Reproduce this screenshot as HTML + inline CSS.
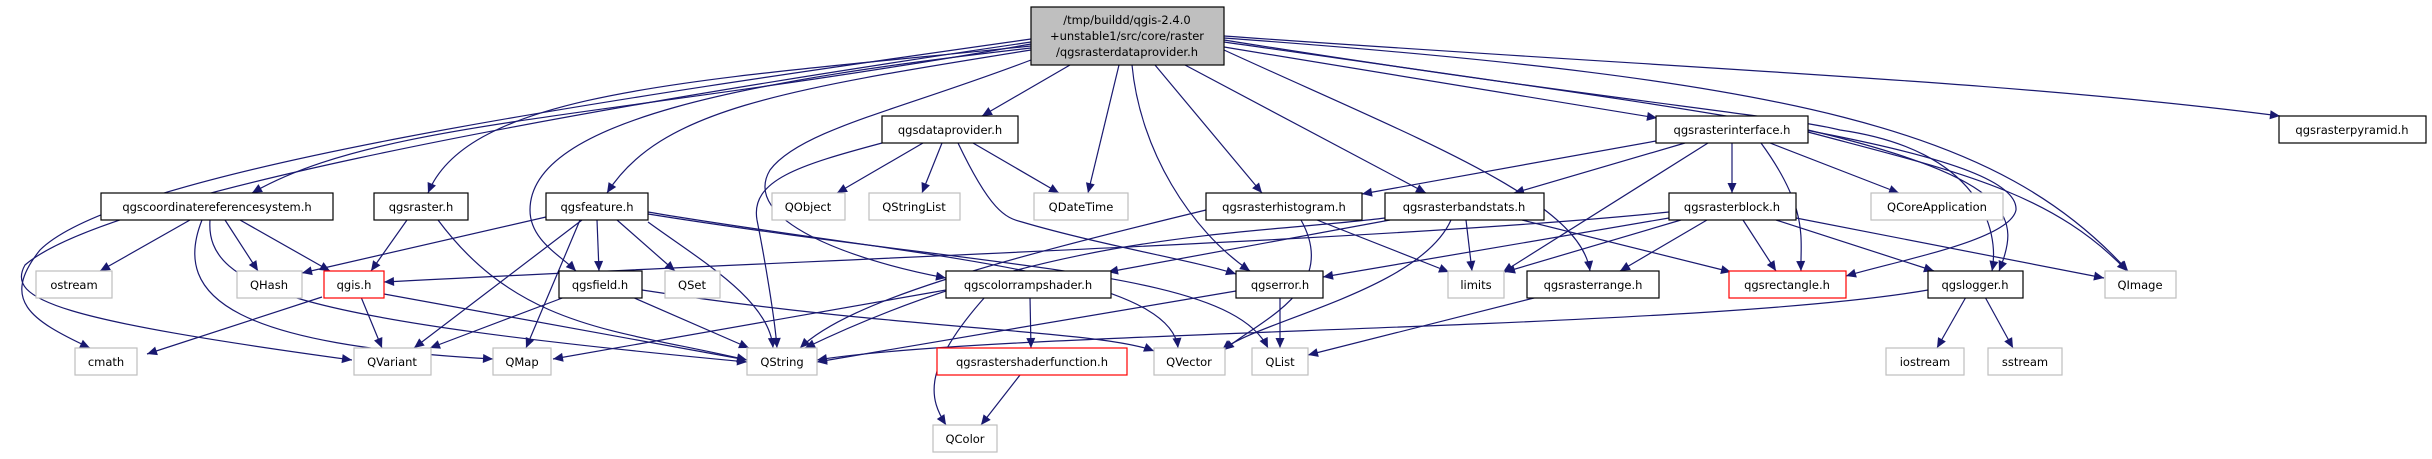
<!DOCTYPE html>
<html><head><meta charset="utf-8"><style>
html,body{margin:0;padding:0;background:#fff;}
svg{display:block;}
text{font-family:"DejaVu Sans","Liberation Sans",sans-serif;font-size:11.5px;fill:#000;}
.e{fill:none;stroke:#191970;stroke-width:1.2;marker-end:url(#a);}
</style></head><body>
<svg width="2432" height="459" viewBox="0 0 2432 459" xmlns="http://www.w3.org/2000/svg">
<defs><marker id="a" viewBox="0 0 10 10" refX="10" refY="5" markerWidth="11" markerHeight="10" markerUnits="userSpaceOnUse" orient="auto"><path d="M0,0.5 L10,5 L0,9.5 z" fill="#191970"/></marker></defs>
<g>
<path class="e" d="M1031,39 C600,100 120,170 40,250 C0,300 30,320 90,348"/>
<path class="e" d="M1031,42 C500,120 100,200 25,265 C5,300 60,320 352,360"/>
<path class="e" d="M1031,44 C600,120 380,120 252,193"/>
<path class="e" d="M1031,46 C700,80 470,90 428,193"/>
<path class="e" d="M1031,48 C750,80 530,120 530,210 C530,240 560,255 576,271"/>
<path class="e" d="M1031,50 C780,90 660,110 607,193"/>
<path class="e" d="M1031,60 C900,110 800,130 770,170 C740,220 850,260 946,278"/>
<path class="e" d="M1070,65 L982,116"/>
<path class="e" d="M1119,65 L1088,193"/>
<path class="e" d="M1132,65 C1140,150 1190,230 1250,271"/>
<path class="e" d="M1155,65 L1262,193"/>
<path class="e" d="M1185,65 L1426,193"/>
<path class="e" d="M1224,50 C1420,140 1580,200 1590,271"/>
<path class="e" d="M1224,47 L1657,118"/>
<path class="e" d="M1224,40 C1600,100 1780,115 1840,130 C1980,150 2000,230 1992,271"/>
<path class="e" d="M1224,38 C1800,80 2000,130 2128,271"/>
<path class="e" d="M1224,36 C1700,70 2000,80 2280,116"/>
<path class="e" d="M1224,42 C1700,110 2020,150 2016,210 C2010,240 1900,260 1846,276"/>
<path class="e" d="M923,143 L837,193"/>
<path class="e" d="M942,143 L922,193"/>
<path class="e" d="M973,143 L1059,193"/>
<path class="e" d="M882,143 C800,165 750,180 757,220 C765,260 775,320 777,348"/>
<path class="e" d="M958,143 C990,210 1005,218 1022,222 C1100,245 1200,262 1236,274"/>
<path class="e" d="M190,220 L100,271"/>
<path class="e" d="M225,220 L258,271"/>
<path class="e" d="M240,220 L330,271"/>
<path class="e" d="M202,220 C170,300 240,345 493,359"/>
<path class="e" d="M210,220 C205,290 300,320 747,362"/>
<path class="e" d="M407,220 L371,271"/>
<path class="e" d="M438,220 C520,330 620,330 747,360"/>
<path class="e" d="M546,217 L302,273"/>
<path class="e" d="M582,220 L414,348"/>
<path class="e" d="M580,220 L526,348"/>
<path class="e" d="M597,220 L599,271"/>
<path class="e" d="M617,220 L675,271"/>
<path class="e" d="M648,222 C700,260 770,300 773,348"/>
<path class="e" d="M648,212 C900,255 1170,270 1178,348"/>
<path class="e" d="M648,214 C1000,270 1230,270 1268,348"/>
<path class="e" d="M322,297 L147,354"/>
<path class="e" d="M361,297 L382,348"/>
<path class="e" d="M384,294 L747,360"/>
<path class="e" d="M565,297 L430,348"/>
<path class="e" d="M632,297 L749,348"/>
<path class="e" d="M642,290 C900,330 1100,330 1154,351"/>
<path class="e" d="M946,290 L553,359"/>
<path class="e" d="M1030,297 L1031,348"/>
<path class="e" d="M985,297 C920,370 930,400 946,425"/>
<path class="e" d="M1020,375 L981,425"/>
<path class="e" d="M1656,141 L1362,194"/>
<path class="e" d="M1685,143 L1514,193"/>
<path class="e" d="M1708,143 L1503,272"/>
<path class="e" d="M1732,143 L1732,193"/>
<path class="e" d="M1761,143 C1810,210 1800,240 1801,271"/>
<path class="e" d="M1770,143 L1899,193"/>
<path class="e" d="M1808,130 C2020,180 2020,220 1999,271"/>
<path class="e" d="M1808,132 C1950,170 2050,190 2127,271"/>
<path class="e" d="M1669,212 C1400,240 800,260 384,282"/>
<path class="e" d="M1669,218 L1323,277"/>
<path class="e" d="M1681,220 L1505,272"/>
<path class="e" d="M1707,220 L1620,271"/>
<path class="e" d="M1743,220 L1776,271"/>
<path class="e" d="M1776,220 L1934,271"/>
<path class="e" d="M1796,218 L2104,278"/>
<path class="e" d="M1385,218 C1250,235 1050,230 805,348"/>
<path class="e" d="M1390,220 L1108,272"/>
<path class="e" d="M1466,220 L1472,271"/>
<path class="e" d="M1451,220 C1420,290 1260,320 1222,350"/>
<path class="e" d="M1522,220 L1731,272"/>
<path class="e" d="M1206,210 C1000,260 850,300 800,348"/>
<path class="e" d="M1317,220 L1449,272"/>
<path class="e" d="M1301,220 C1340,290 1260,320 1224,350"/>
<path class="e" d="M1236,291 L817,362"/>
<path class="e" d="M1928,290 C1700,330 1000,330 817,360"/>
<path class="e" d="M1280,297 L1280,348"/>
<path class="e" d="M1538,297 L1308,355"/>
<path class="e" d="M1966,297 L1937,348"/>
<path class="e" d="M1985,297 L2013,348"/>
</g>
<g stroke-width="1.2">
<rect x="1031" y="7" width="193" height="58" fill="#bfbfbf" stroke="#000"/>
<text x="1127" y="24" text-anchor="middle">/tmp/buildd/qgis-2.4.0</text>
<text x="1127" y="40" text-anchor="middle">+unstable1/src/core/raster</text>
<text x="1127" y="56" text-anchor="middle">/qgsrasterdataprovider.h</text>
</g>
<g fill="#fff" stroke="#000" stroke-width="1.2">
<rect x="882" y="116" width="136" height="27"/>
<rect x="1656" y="116" width="152" height="27"/>
<rect x="2279" y="116" width="147" height="27"/>
<rect x="101" y="193" width="232" height="27"/>
<rect x="374" y="193" width="94" height="27"/>
<rect x="546" y="193" width="102" height="27"/>
<rect x="1206" y="193" width="156" height="27"/>
<rect x="1385" y="193" width="159" height="27"/>
<rect x="1669" y="193" width="127" height="27"/>
<rect x="559" y="271" width="83" height="27"/>
<rect x="946" y="271" width="165" height="27"/>
<rect x="1236" y="271" width="87" height="27"/>
<rect x="1527" y="271" width="132" height="27"/>
<rect x="1928" y="271" width="95" height="27"/>
</g>
<g fill="#fff" stroke="#bfbfbf" stroke-width="1.2">
<rect x="772" y="193" width="73" height="27"/>
<rect x="869" y="193" width="91" height="27"/>
<rect x="1034" y="193" width="94" height="27"/>
<rect x="1871" y="193" width="132" height="27"/>
<rect x="36" y="271" width="76" height="27"/>
<rect x="237" y="271" width="65" height="27"/>
<rect x="665" y="271" width="55" height="27"/>
<rect x="1448" y="271" width="56" height="27"/>
<rect x="2105" y="271" width="71" height="27"/>
<rect x="75" y="348" width="62" height="27"/>
<rect x="354" y="348" width="77" height="27"/>
<rect x="493" y="348" width="58" height="27"/>
<rect x="747" y="348" width="70" height="27"/>
<rect x="1154" y="348" width="71" height="27"/>
<rect x="1252" y="348" width="56" height="27"/>
<rect x="1886" y="348" width="78" height="27"/>
<rect x="1988" y="348" width="74" height="27"/>
<rect x="933" y="425" width="64" height="27"/>
</g>
<g fill="#fff" stroke="#ff0000" stroke-width="1.2">
<rect x="324" y="271" width="60" height="27"/>
<rect x="1729" y="271" width="117" height="27"/>
<rect x="937" y="348" width="190" height="27"/>
</g>
<g text-anchor="middle">
<text x="950" y="134">qgsdataprovider.h</text>
<text x="1732" y="134">qgsrasterinterface.h</text>
<text x="2352" y="134">qgsrasterpyramid.h</text>
<text x="217" y="211">qgscoordinatereferencesystem.h</text>
<text x="421" y="211">qgsraster.h</text>
<text x="597" y="211">qgsfeature.h</text>
<text x="808" y="211">QObject</text>
<text x="914" y="211">QStringList</text>
<text x="1081" y="211">QDateTime</text>
<text x="1284" y="211">qgsrasterhistogram.h</text>
<text x="1464" y="211">qgsrasterbandstats.h</text>
<text x="1732" y="211">qgsrasterblock.h</text>
<text x="1937" y="211">QCoreApplication</text>
<text x="74" y="289">ostream</text>
<text x="269" y="289">QHash</text>
<text x="354" y="289">qgis.h</text>
<text x="600" y="289">qgsfield.h</text>
<text x="692" y="289">QSet</text>
<text x="1028" y="289">qgscolorrampshader.h</text>
<text x="1280" y="289">qgserror.h</text>
<text x="1476" y="289">limits</text>
<text x="1593" y="289">qgsrasterrange.h</text>
<text x="1787" y="289">qgsrectangle.h</text>
<text x="1975" y="289">qgslogger.h</text>
<text x="2140" y="289">QImage</text>
<text x="106" y="366">cmath</text>
<text x="392" y="366">QVariant</text>
<text x="522" y="366">QMap</text>
<text x="782" y="366">QString</text>
<text x="1032" y="366">qgsrastershaderfunction.h</text>
<text x="1189" y="366">QVector</text>
<text x="1280" y="366">QList</text>
<text x="1925" y="366">iostream</text>
<text x="2025" y="366">sstream</text>
<text x="965" y="443">QColor</text>
</g>
</svg>
</body></html>
